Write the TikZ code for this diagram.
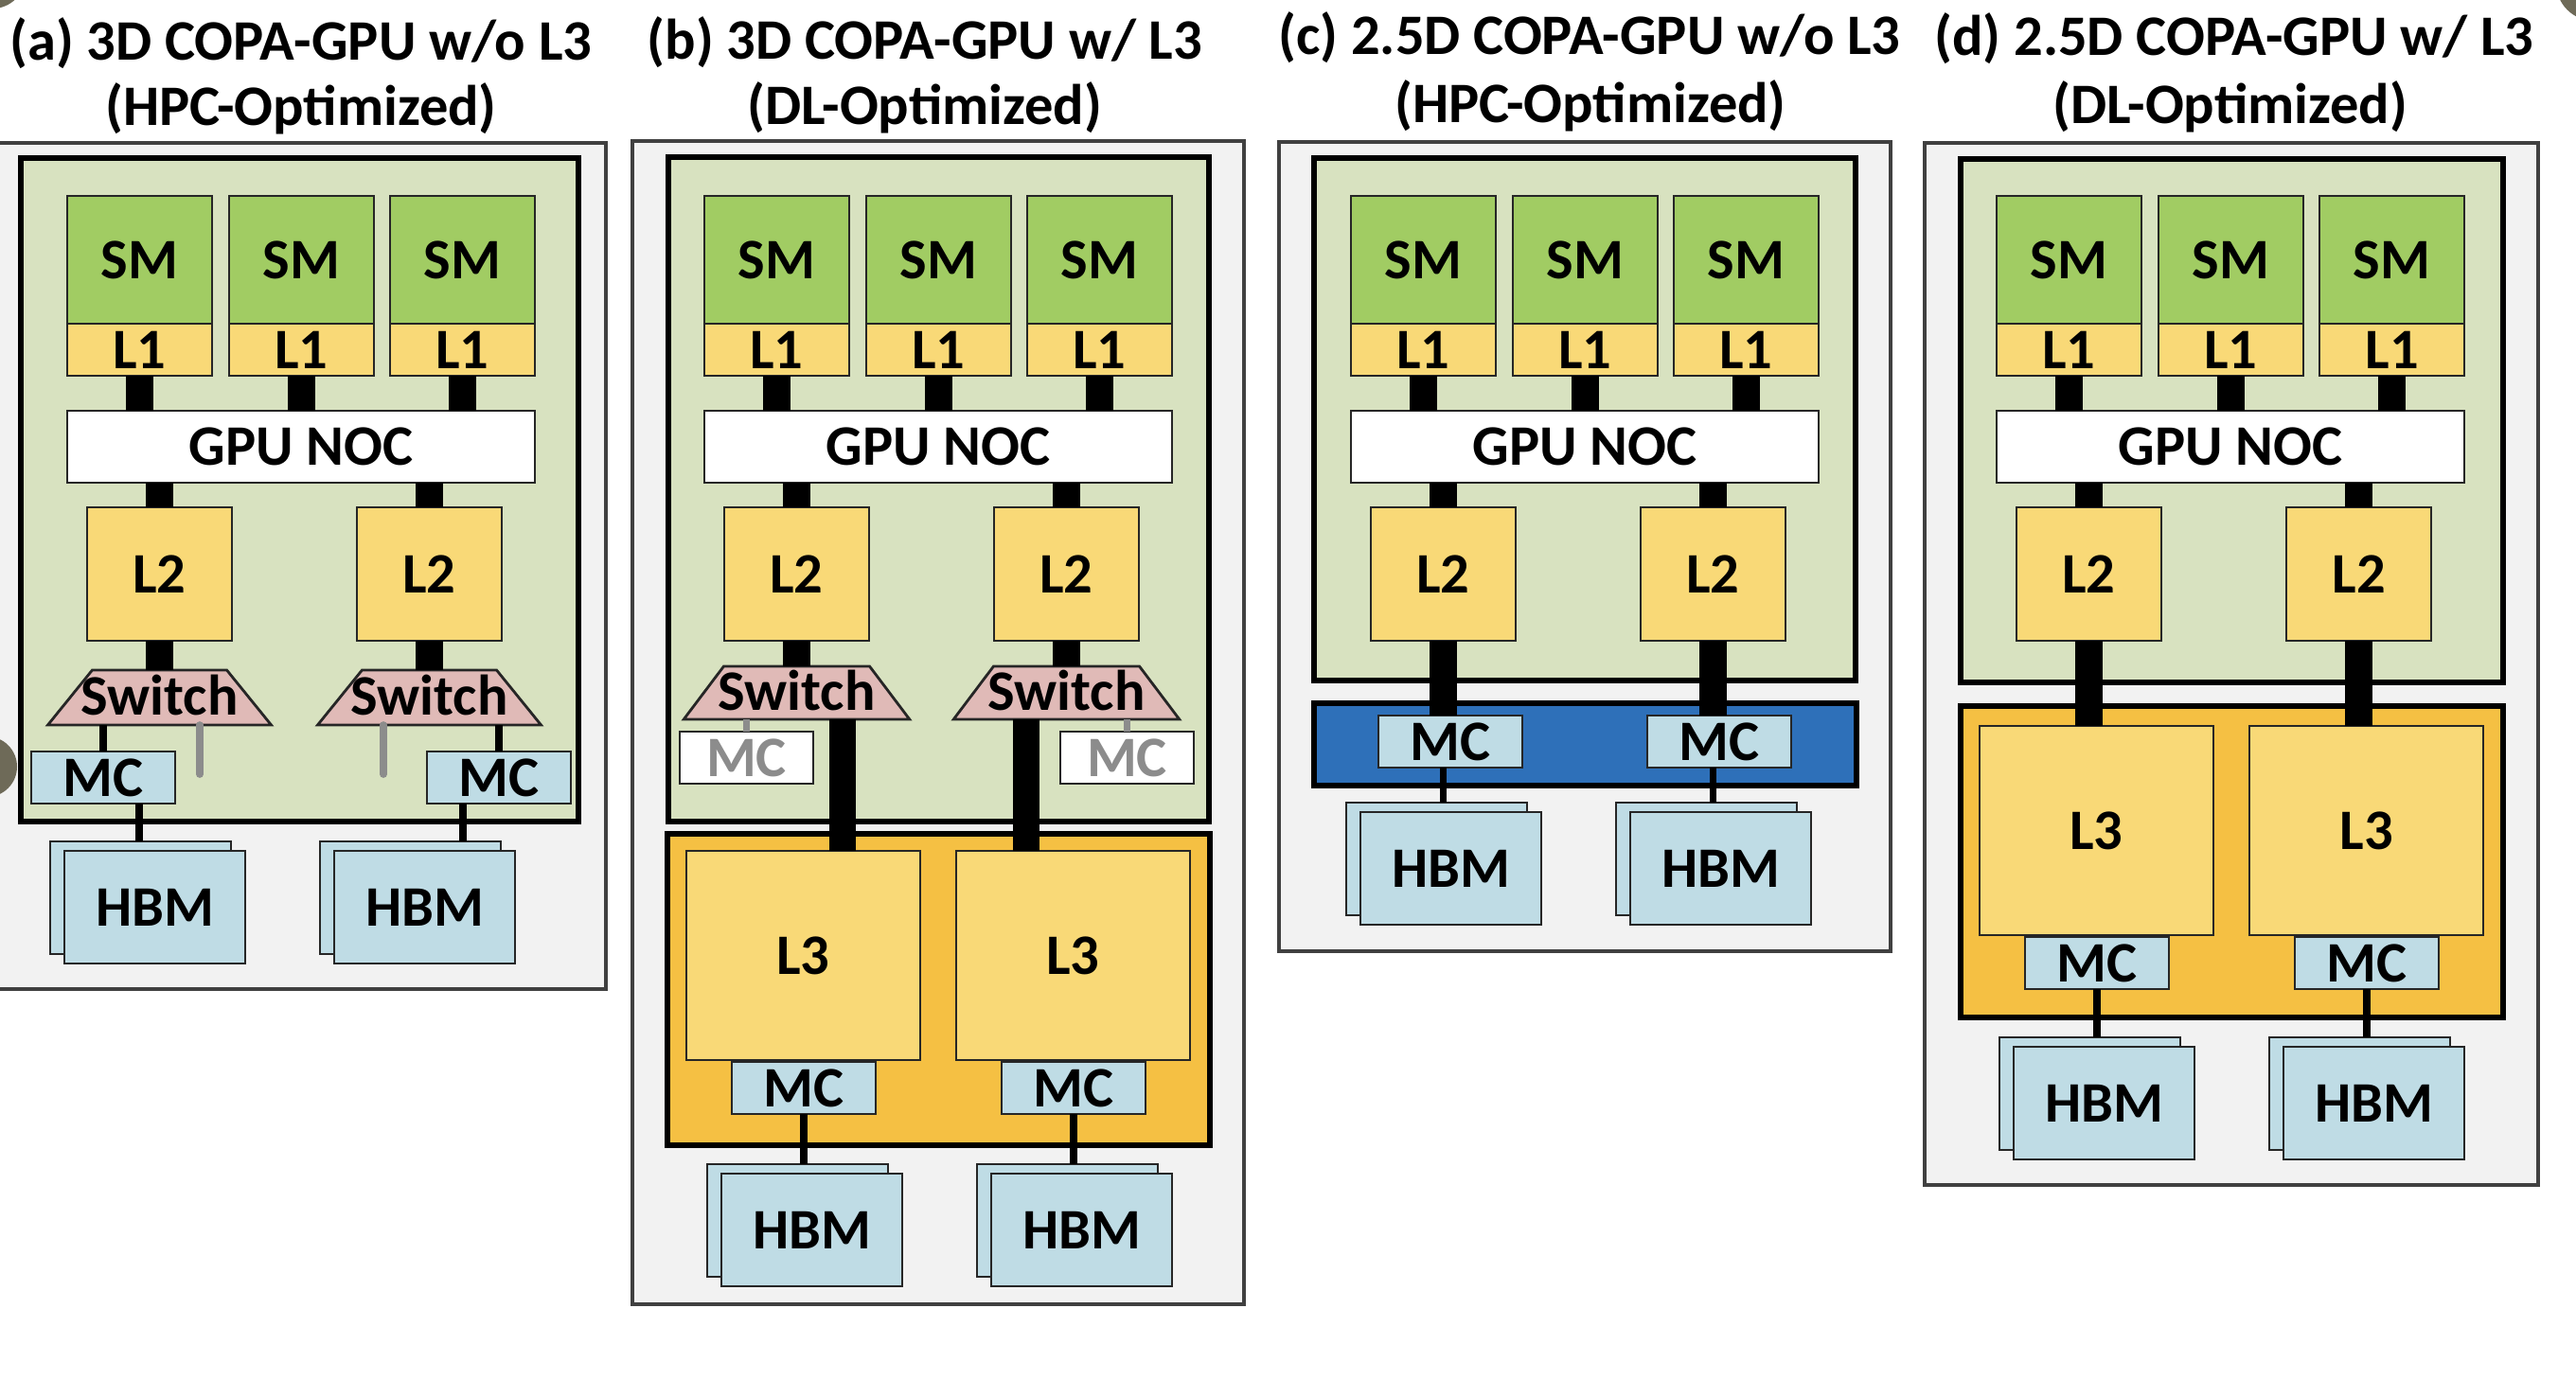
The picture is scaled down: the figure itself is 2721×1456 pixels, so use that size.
\documentclass[tikz,border=0pt]{standalone}
\usepackage{fontspec}
\setmainfont{Carlito}
\usetikzlibrary{positioning,shapes.geometric}
\definecolor{panelgray}{HTML}{F2F2F2}
\definecolor{chipgreen}{HTML}{D8E2C0}
\definecolor{smgreen}{HTML}{A1CC63}
\definecolor{cacheyellow}{HTML}{F9D977}
\definecolor{stackorange}{HTML}{F5C043}
\definecolor{mcblue}{HTML}{BFDCE5}
\definecolor{swpink}{HTML}{E0BAB7}
\definecolor{barblue}{HTML}{2E70B9}
\definecolor{stubgray}{HTML}{8C8C8C}
\definecolor{blob}{HTML}{6E6A58}

\begin{document}
\begin{tikzpicture}[x=0.01cm,y=-0.01cm,
  lbl/.style={font=\fontsize{17.2}{20}\selectfont\bfseries},
  blk/.style={lbl,draw=black!85,line width=0.8pt,inner sep=0pt,outer sep=0pt,
    text height=0.39cm,text depth=0pt},
  spot/.style n args={4}{at={({#1+(#3)/2},{#2+(#4)/2})},
    minimum width={(#3)*0.01cm},minimum height={(#4)*0.01cm}},
  smbox/.style={blk,fill=smgreen},
  cache/.style={blk,fill=cacheyellow},
  mcbox/.style={blk,fill=mcblue},
  swbox/.style={blk,fill=swpink,trapezium},
  panel/.style={draw=black!75,fill=panelgray,line width=0.9pt},
  chip/.style={draw=black,fill=chipgreen,line width=1.8pt},
  bus/.style={line width=8.2pt},
  wire/.style={line width=2.2pt},
  stub/.style={stubgray,line width=2.2pt,line cap=round}]
  \fill[white] (0,0) rectangle (2721,1456);
  \useasboundingbox (0,0) rectangle (2721,1456);

  % titles
  \node[lbl,anchor=base] (ta1) at (318,63) {(a) 3D COPA-GPU w/o L3};
  \node[lbl,anchor=base] (ta2) at (318,132) {(HPC-Optimized)};
  \node[lbl,anchor=base] (tb1) at (977,62) {(b) 3D COPA-GPU w/ L3};
  \node[lbl,anchor=base] (tb2) at (977,131) {(DL-Optimized)};
  \node[lbl,anchor=base] (tc1) at (1679,57) {(c) 2.5D COPA-GPU w/o L3};
  \node[lbl,anchor=base] (tc2) at (1680,129) {(HPC-Optimized)};
  \node[lbl,anchor=base] (td1) at (2360,58) {(d) 2.5D COPA-GPU w/ L3};
  \node[lbl,anchor=base] (td2) at (2356,130) {(DL-Optimized)};

  % packages and dies
  \draw[panel] (-6,151) rectangle (640,1045);
  \draw[panel] (668,149) rectangle (1314,1378);
  \draw[panel] (1351,150) rectangle (1997,1005);
  \draw[panel] (2033,151) rectangle (2681,1252);
  \draw[chip] (22,167) rectangle (611,868);
  \draw[chip] (706,166) rectangle (1277,868);
  \draw[chip] (1388,167) rectangle (1960,719);
  \draw[chip] (2071,168) rectangle (2644,721);
  \draw[chip,fill=stackorange] (705,881) rectangle (1278,1210);
  \draw[chip,fill=barblue] (1388,743) rectangle (1961,830);
  \draw[chip,fill=stackorange] (2071,746) rectangle (2644,1075);

  % GPU die, same in every panel
  \foreach \p/\o in {a/71,b/744,c/1427,d/2109}{
    \foreach \i/\dx in {1/0,2/171,3/341}{
      \node[smbox,spot={\o+\dx}{207}{153}{135}] (sm-\p-\i) {SM};
      \node[cache,spot={\o+\dx}{342}{153}{55}] (l1-\p-\i) {L1};
    }
    \node[blk,fill=white,spot={\o}{434}{494}{76}] (noc-\p) {GPU NOC};
    \foreach \i/\dx in {1/21,2/306}
      \node[cache,spot={\o+\dx}{536}{153}{141}] (l2-\p-\i) {L2};
    \foreach \i in {1,2,3}
      \draw[bus] (l1-\p-\i.south) -- (l1-\p-\i.south |- noc-\p.north);
    \foreach \i in {1,2}
      \draw[bus] (noc-\p.south -| l2-\p-\i.north) -- (l2-\p-\i.north);
  }

  \foreach \n/\x in {a-1/168.5,a-2/453.5}
    \node[swbox,trapezium left angle=51,trapezium right angle=51,
      text height=0.47cm,text depth=0.11cm] (sw-\n) at (\x,737) {\makebox[1.42cm]{Switch}};
  \foreach \n/\x in {b-1/841.5,b-2/1126.5}
    \node[swbox,trapezium left angle=53,trapezium right angle=53,
      text height=0.46cm,text depth=0.10cm] (sw-\n) at (\x,732) {\makebox[1.54cm]{Switch}};
  \node[blk,fill=white,text=stubgray,spot={718}{773}{141}{55}] (mcw-b-1) {MC};
  \node[blk,fill=white,text=stubgray,spot={1120}{773}{141}{55}] (mcw-b-2) {MC};

  \foreach \n/\x/\y in {b-1/725/899,b-2/1010/899,d-1/2091/767,d-2/2376/767}
    \node[cache,spot={\x}{\y}{247}{221}] (l3-\n) {L3};
  \foreach \n/\x/\y in {a-1/33/794,a-2/451/794,b-1/773/1122,b-2/1058/1122,
      c-1/1456/756,c-2/1740/756,d-1/2139/990,d-2/2424/990}
    \node[mcbox,spot={\x}{\y}{152}{55}] (mc-\n) {MC};
  \foreach \n/\x/\y in {a-1/53/889,a-2/338/889,b-1/747/1230,b-2/1032/1230,
      c-1/1422/848,c-2/1707/848,d-1/2112/1096,d-2/2397/1096}{
    \node[mcbox,spot={\x}{\y}{191}{119}] (hbmb-\n) {};
    \node[mcbox,spot={\x+15}{\y+10}{191}{119}] (hbm-\n) {HBM};
  }

  % (a)
  \coordinate (end-a-1) at (211,818);
  \coordinate (end-a-2) at (405,818);
  \coordinate (tap-a-1) at ([xshift=-0.38cm]mc-a-1.south east);
  \coordinate (tap-a-2) at ([xshift=0.38cm]mc-a-2.south west);
  \foreach \i in {1,2}{
    \draw[bus] (l2-a-\i.south) -- (sw-a-\i.north);
    \draw[wire] (mc-a-\i.north) -- (mc-a-\i.north |- sw-a-\i.south);
    \draw[stub] (end-a-\i |- sw-a-\i.south) -- (end-a-\i);
    \draw[wire] (tap-a-\i) -- (tap-a-\i |- hbmb-a-\i.north);
  }

  % (b)
  \coordinate (drop-b-1) at ([xshift=0.485cm]sw-b-1.south);
  \coordinate (drop-b-2) at ([xshift=-0.425cm]sw-b-2.south);
  \foreach \i in {1,2}{
    \draw[bus] (l2-b-\i.south) -- (sw-b-\i.north);
    \draw[stub,line cap=butt] (mcw-b-\i.north) -- (mcw-b-\i.north |- sw-b-\i.south);
    \draw[bus] (drop-b-\i) -- (drop-b-\i |- l3-b-\i.north);
    \draw[wire] (mc-b-\i.south) -- (mc-b-\i.south |- hbmb-b-\i.north);
  }

  % (c) and (d)
  \foreach \i in {1,2}{
    \draw[bus] (l2-c-\i.south) -- (l2-c-\i.south |- mc-c-\i.north);
    \draw[wire] (mc-c-\i.south -| l2-c-\i) -- (hbmb-c-\i.north -| l2-c-\i);
    \draw[bus] (l2-d-\i.south) -- (l2-d-\i.south |- l3-d-\i.north);
    \draw[wire] (mc-d-\i.south) -- (mc-d-\i.south |- hbmb-d-\i.north);
  }

  \fill[blob] (-8,-26) circle (0.35cm);
  \fill[blob] (-14,810) circle (0.32cm);
  \fill[blob] (2740,-18) circle (0.40cm);
\end{tikzpicture}
\end{document}
